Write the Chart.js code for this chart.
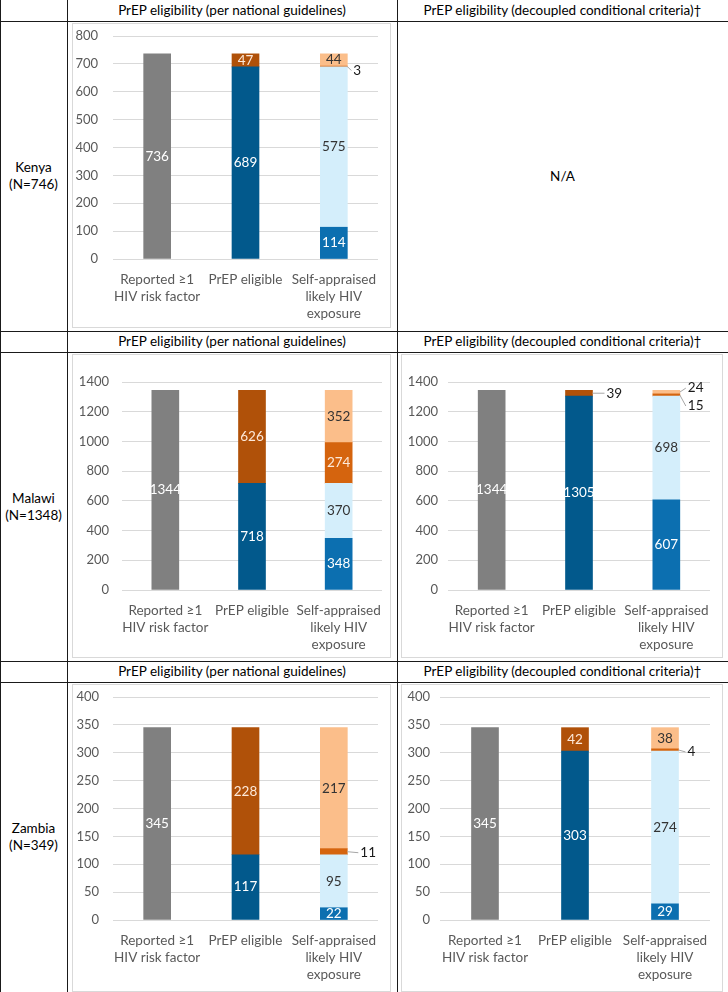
<!DOCTYPE html>
<html>
<head>
<meta charset="utf-8">
<script src="https://cdn.jsdelivr.net/npm/chart.js@4.4.0/dist/chart.umd.min.js"></script>
<style>
body { margin: 0; background: #fff; font-family: Lato, sans-serif; }
#page { position: relative; width: 728px; height: 992px; overflow: hidden; background: #fff; }
.hl { position: absolute; left: 0; width: 728px; height: 1px; background: #1a1a1a; }
.vl { position: absolute; top: 0; height: 992px; width: 1px; background: #1a1a1a; }
.box { position: absolute; border: 1px solid #d9d9d9; box-sizing: border-box; }
.txt { position: absolute; display: flex; align-items: center; justify-content: center; text-align: center; font-size: 13.5px; line-height: 17px; color: #000; }
canvas { position: absolute; }
</style>
</head>
<body>
<div id="page">
  <div class="txt" style="left:67px;top:0;width:330px;height:21px">PrEP eligibility (per national guidelines)</div>
  <div class="txt" style="left:397px;top:0;width:331px;height:21px">PrEP eligibility (decoupled conditional criteria)†</div>
  <div class="txt" style="left:67px;top:331px;width:330px;height:21px">PrEP eligibility (per national guidelines)</div>
  <div class="txt" style="left:397px;top:331px;width:331px;height:21px">PrEP eligibility (decoupled conditional criteria)†</div>
  <div class="txt" style="left:67px;top:661px;width:330px;height:21px">PrEP eligibility (per national guidelines)</div>
  <div class="txt" style="left:397px;top:661px;width:331px;height:21px">PrEP eligibility (decoupled conditional criteria)†</div>

  <div class="txt" style="left:0;top:21px;width:67px;height:310px">Kenya<br>(N=746)</div>
  <div class="txt" style="left:0;top:352px;width:67px;height:309px">Malawi<br>(N=1348)</div>
  <div class="txt" style="left:0;top:682px;width:67px;height:310px">Zambia<br>(N=349)</div>
  <div class="txt" style="left:397px;top:21px;width:331px;height:310px">N/A</div>

  <div class="hl" style="top:21px"></div>
  <div class="hl" style="top:331px"></div>
  <div class="hl" style="top:352px"></div>
  <div class="hl" style="top:661px"></div>
  <div class="hl" style="top:682px"></div>
  <div class="vl" style="left:0"></div>
  <div class="vl" style="left:67px"></div>
  <div class="vl" style="left:397px"></div>
</div>
<script>
const categories = [['Reported ≥1', 'HIV risk factor'], 'PrEP eligible', ['Self-appraised', 'likely HIV', 'exposure']];

// segments: which column each sits in
const segmentNames = ['Reported ≥1 HIV risk factor', 'PrEP eligible', 'Not PrEP eligible',
  'Eligible, self-appraised likely exposure', 'Eligible, not self-appraised',
  'Not eligible, self-appraised likely exposure', 'Not eligible, not self-appraised'];
const segmentColumn = [0, 1, 1, 2, 2, 2, 2];
const segmentColors = ['#808080', '#02598c', '#b05109', '#0c6fb0', '#d4eefb', '#d5640e', '#fbbe8a'];
const labelColors = ['#ffffff', '#ffffff', '#fde9d9', '#ffffff', '#333333', '#fde9d9', '#333333'];

const kenyaNational = [736, 689, 47, 114, 575, 3, 44];
const malawiNational = [1344, 718, 626, 348, 370, 274, 352];
const malawiDecoupled = [1344, 1305, 39, 607, 698, 15, 24];
const zambiaNational = [345, 117, 228, 22, 95, 11, 217];
const zambiaDecoupled = [345, 303, 42, 29, 274, 4, 38];

const panelValues = [kenyaNational, malawiNational, malawiDecoupled, zambiaNational, zambiaDecoupled];
const axisMax = [800, 1400, 1400, 400, 400];
const axisStep = [100, 200, 200, 50, 50];

// layout of each panel on the page: box and plot area
const panels = [
  { x: 72, y: 23, w: 319, h: 305, l: 113, r: 378, t: 36, b: 259, pad: 15, out: [[5, 6, 4]] },
  { x: 72, y: 354, w: 319, h: 304, l: 122, r: 382, t: 382, b: 590, pad: 13, out: [] },
  { x: 401, y: 354, w: 322, h: 304, l: 448, r: 710, t: 382, b: 590, pad: 10, out: [[2, 14, 0], [6, 8, -4], [5, 8, 11]] },
  { x: 72, y: 684, w: 319, h: 308, l: 113, r: 378, t: 697, b: 920, pad: 14, out: [[5, 13, 1]] },
  { x: 401, y: 684, w: 322, h: 308, l: 440, r: 710, t: 697, b: 920, pad: 10, out: [[5, 9, 2]] }
];

const segmentLabels = {
  id: 'segmentLabels',
  afterDatasetsDraw(chart, args, opts) {
    const ctx = chart.ctx;
    ctx.save();
    ctx.font = '13.5px Lato';
    ctx.textBaseline = 'middle';
    chart.data.datasets.forEach((ds, i) => {
      const col = segmentColumn[i];
      const bar = chart.getDatasetMeta(i).data[col];
      const v = ds.data[col];
      if (!bar || v == null) return;
      const cy = (bar.y + bar.base) / 2;
      const out = opts.outside.find(o => o[0] === i);
      if (out) {
        const x0 = bar.x + bar.width / 2;
        const tx = x0 + out[1];
        const ty = cy + out[2];
        ctx.strokeStyle = '#a6a6a6';
        ctx.lineWidth = 1;
        ctx.beginPath();
        ctx.moveTo(x0, cy);
        ctx.lineTo(tx - 2, ty);
        ctx.stroke();
        ctx.fillStyle = '#1a1a1a';
        ctx.textAlign = 'left';
        ctx.fillText(v, tx, ty);
      } else {
        ctx.fillStyle = labelColors[i];
        ctx.textAlign = 'center';
        ctx.fillText(v, bar.x, cy);
      }
    });
    ctx.restore();
  }
};

const page = document.getElementById('page');

panels.forEach((p, n) => {
  const box = document.createElement('div');
  box.className = 'box';
  box.style.cssText = `left:${p.x}px;top:${p.y}px;width:${p.w}px;height:${p.h}px`;
  page.appendChild(box);

  const canvas = document.createElement('canvas');
  canvas.width = p.w;
  canvas.height = p.h;
  canvas.style.cssText = `left:${p.x}px;top:${p.y}px;width:${p.w}px;height:${p.h}px`;
  page.appendChild(canvas);

  const values = panelValues[n];
  const datasets = segmentNames.map((name, i) => {
    const data = [null, null, null];
    data[segmentColumn[i]] = values[i];
    return { label: name, data: data, backgroundColor: segmentColors[i], barThickness: 27 };
  });

  new Chart(canvas.getContext('2d'), {
    type: 'bar',
    data: { labels: categories, datasets: datasets },
    plugins: [segmentLabels],
    options: {
      responsive: false,
      animation: false,
      layout: { padding: { top: p.t - p.y, right: p.x + p.w - p.r, left: 0, bottom: 0 } },
      plugins: {
        legend: { display: false },
        tooltip: { enabled: false },
        segmentLabels: { outside: p.out }
      },
      scales: {
        x: {
          stacked: true,
          grid: { display: false },
          border: { display: false },
          ticks: {
            color: '#595959',
            font: { family: 'Lato', size: 13.5, lineHeight: '17px' },
            padding: 4,
            maxRotation: 0,
            autoSkip: false
          },
          afterFit(s) { s.height = p.y + p.h - p.b; }
        },
        y: {
          stacked: true,
          min: 0,
          max: axisMax[n],
          grid: { color: '#d9d9d9', drawTicks: false },
          border: { display: false },
          ticks: {
            stepSize: axisStep[n],
            color: '#595959',
            font: { family: 'Lato', size: 13 },
            padding: p.pad,
            callback: v => String(v)
          },
          afterFit(s) {
            s.width = p.l - p.x;
            s.paddingTop = 0;
            s.paddingBottom = 0;
          }
        }
      }
    }
  });
});
</script>
</body>
</html>
